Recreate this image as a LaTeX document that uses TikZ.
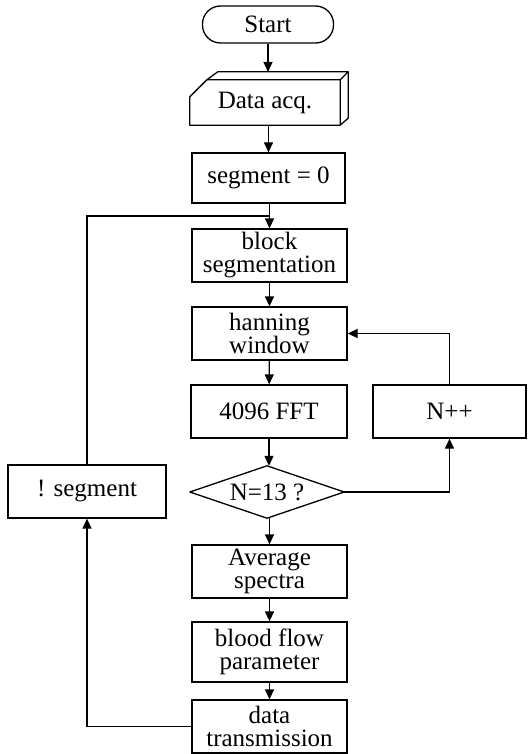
\documentclass[tikz,border=0pt]{standalone}
\usepackage{fontspec}
\setmainfont{Liberation Serif}
\usetikzlibrary{arrows.meta,calc}
\begin{document}
\begin{tikzpicture}[x=1pt,y=-1pt,
  every node/.style={font=\fontsize{25}{23}\selectfont, align=center, inner sep=0pt},
  lw/.style={line width=1.3pt},
  box/.style={draw, lw, minimum width=155pt, minimum height=53pt},
  arr/.style={lw, -{Triangle[length=10pt,width=9pt]}},
  ln/.style={lw}]
\useasboundingbox (0,0) rectangle (527,754);
% nodes
\node[draw, lw, rounded corners=18pt, minimum width=131pt, minimum height=37pt] (start) at (268,24.5) {Start};
\node[minimum width=150pt, minimum height=45pt] (dacq) at (265,102.5) {Data acq.};
\coordinate (dacqtop) at (268,72);
\node[box, minimum width=153pt, minimum height=50pt] (seg0) at (268.5,178) {segment = 0};
\node[box] (blockseg) at (269.5,255.5) {block\\segmentation};
\node[box] (hanning) at (269.5,333.5) {hanning\\window};
\node[box, minimum width=156pt] (fft) at (269,411.5) {4096 FFT};
\node[box, minimum width=153pt] (npp) at (449.5,411.5) {N++};
\node[minimum width=154pt, minimum height=52pt] (cond) at (267,492) {N=13 ?};
\node[box, minimum width=158pt] (nseg) at (87,491.5) {! segment};
\node[box] (avg) at (269.5,571.5) {Average\\spectra};
\node[box, minimum height=60pt] (blood) at (269.5,652) {blood flow\\parameter};
\node[box, minimum height=53pt] (dtrans) at (269.5,726.5) {data\\transmission};
\coordinate (looptop) at (87,216);
\coordinate (loopjoin) at (269.5,216);
% data acq shape
\draw[lw, line join=round]
  (dacq.south west) -- ($(dacq.north west)+(0,17)$) -- ($(dacq.north west)+(17,0)$)
  -- (dacq.north east) -- (dacq.south east) -- cycle;
\draw[lw, line join=round]
  ($(dacq.north west)+(17,0)$) -- ($(dacq.north west)+(28,-8)$) -- ($(dacq.north east)+(8,-8)$)
  -- (dacq.north east);
\draw[lw, line join=round]
  ($(dacq.north east)+(8,-8)$) -- ($(dacq.south east)+(8,-7)$) -- (dacq.south east);
% diamond
\draw[lw, line join=round] (cond.west) -- (cond.north) -- (cond.east) -- (cond.south) -- cycle;
% main flow
\draw[arr] (start.south) -- (dacqtop);
\draw[arr] (dacq.south -| seg0.north) -- (seg0.north);
\draw[arr] (seg0.south -| blockseg.north) -- (blockseg.north);
\draw[arr] (blockseg) -- (hanning);
\draw[arr] (hanning) -- (fft);
\draw[arr] (fft.south) -- (cond.north -| fft.south);
\draw[arr] (cond.south -| avg.north) -- (avg.north);
\draw[arr] (avg) -- (blood);
\draw[arr] (blood) -- (dtrans);
% loops
\draw[arr] (cond.east) -| (npp.south);
\draw[arr] (npp.north) |- (hanning.east);
\draw[arr] (dtrans.west) -| (nseg.south);
\draw[ln] (nseg.north) -- (looptop) -- (loopjoin);
\end{tikzpicture}
\end{document}
